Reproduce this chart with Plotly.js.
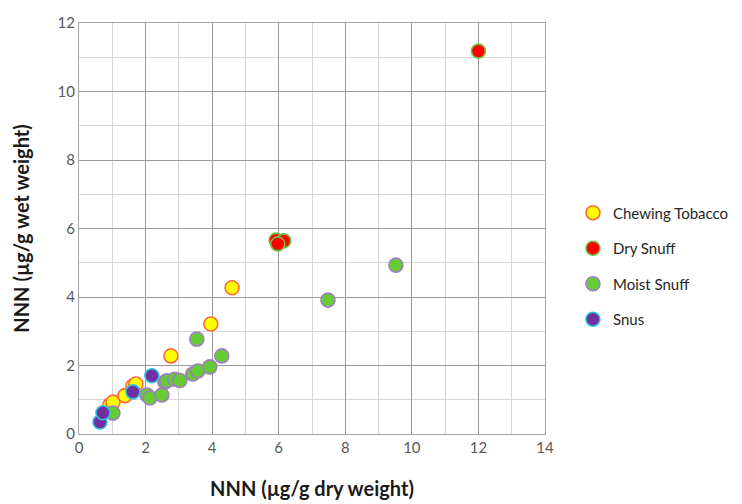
<!DOCTYPE html>
<html>
<head>
<meta charset="utf-8">
<script src="https://cdn.plot.ly/plotly-3.0.1.min.js"></script>
<style>html,body{margin:0;padding:0;background:#fff;}#chart{width:742px;height:504px;}</style>
</head>
<body>
<div id="chart"></div>
<script>
// Chewing Tobacco
const chewX = [0.93, 1.02, 1.38, 1.62, 1.71, 2.76, 3.96, 4.60];
const chewY = [0.85, 0.93, 1.12, 1.40, 1.46, 2.28, 3.21, 4.27];
// Dry Snuff
const dryX = [5.92, 6.15, 5.97, 12.0];
const dryY = [5.66, 5.64, 5.55, 11.18];
// Moist Snuff
const moistX = [1.02, 2.04, 2.13, 2.49, 2.58, 2.64, 2.88, 3.03, 3.42, 3.54, 3.57, 3.93, 4.29, 7.48, 9.52];
const moistY = [0.61, 1.14, 1.05, 1.14, 1.52, 1.55, 1.60, 1.56, 1.75, 2.77, 1.84, 1.96, 2.28, 3.91, 4.93];
// Snus
const snusX = [0.63, 0.72, 1.62, 2.19];
const snusY = [0.35, 0.62, 1.23, 1.70];

const names = ["Chewing Tobacco", "Dry Snuff", "Moist Snuff", "Snus"];
const fills = ["#ffff00", "#ff0000", "#66cc33", "#7030a0"];
const lines = ["#ff6a3d", "#70c040", "#9f7fc0", "#30c0e0"];
const xs = [chewX, dryX, moistX, snusX];
const ys = [chewY, dryY, moistY, snusY];

const traces = names.map((n, i) => ({
  type: "scatter", mode: "markers", name: n,
  x: xs[i], y: ys[i], legendgroup: "g" + i,
  marker: {size: 14, color: fills[i], line: {color: lines[i], width: 1.6}}
}));

const FONT = "Lato, 'Liberation Sans', sans-serif";
const layout = {
  width: 742, height: 504,
  margin: {l: 79, r: 197, t: 23, b: 70, autoexpand: false},
  paper_bgcolor: "#fff", plot_bgcolor: "#fff",
  font: {family: FONT, size: 14, color: "#595959"},
  showlegend: true,
  legend: {x: 1.06, y: 0.578, xanchor: "left", yanchor: "top",
    font: {family: FONT, size: 15, color: "#262626"},
    tracegroupgap: 13, itemwidth: 30, bgcolor: "rgba(0,0,0,0)"},
  xaxis: {range: [0, 14], dtick: 2, tick0: 0, showgrid: true, gridcolor: "#9a9a9a", gridwidth: 1,
    minor: {dtick: 1, showgrid: true, gridcolor: "#d6d6d6", gridwidth: 1},
    showline: true, linecolor: "#a6a6a6", linewidth: 1, mirror: true, zeroline: false, automargin: false,
    ticks: "", ticklen: 0, tickfont: {size: 15, color: "#595959"},
    title: {text: "<b>NNN (µg/g dry weight)</b>", font: {size: 20, color: "#1a1a1a"}, standoff: 26}},
  yaxis: {range: [0, 12], dtick: 2, tick0: 0, showgrid: true, gridcolor: "#9a9a9a", gridwidth: 1,
    minor: {dtick: 1, showgrid: true, gridcolor: "#d6d6d6", gridwidth: 1},
    showline: true, linecolor: "#a6a6a6", linewidth: 1, mirror: true, zeroline: false, automargin: false,
    ticks: "", ticklen: 0, tickfont: {size: 15, color: "#595959"},
    title: {text: "<b>NNN (µg/g wet weight)</b>", font: {size: 20, color: "#1a1a1a"}, standoff: 22}}
};
Plotly.newPlot("chart", traces, layout, {displayModeBar: false, staticPlot: true});
</script>
</body>
</html>
